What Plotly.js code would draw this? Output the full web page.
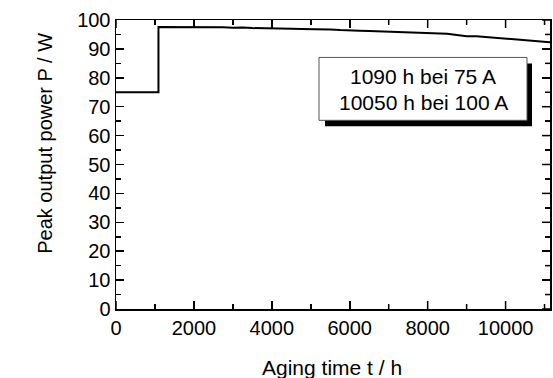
<!DOCTYPE html>
<html>
<head>
<meta charset="utf-8">
<script src="https://cdn.plot.ly/plotly-3.0.1.min.js"></script>
<style>html,body{margin:0;padding:0;background:#fff;}#chart{width:553px;height:378px;}</style>
</head>
<body>
<div id="chart"></div>
<script>
// Aging time (h) and peak output power (W)
const timeH = [0, 1090, 1090, 1250, 1500, 1750, 2000, 2250, 2500, 2750, 3000, 3250, 3500, 3750, 4000,
  4250, 4500, 4750, 5000, 5250, 5500, 5750, 6000, 6250, 6500, 6750, 7000, 7250, 7500, 7750, 8000,
  8250, 8500, 8750, 9000, 9250, 9500, 9750, 10000, 10250, 10500, 10750, 11000, 11140];
const powerW = [75, 75, 97.6, 97.6, 97.5, 97.6, 97.5, 97.5, 97.4, 97.5, 97.3, 97.4, 97.2, 97.2, 97.1,
  97.1, 97.0, 96.9, 96.9, 96.7, 96.7, 96.5, 96.5, 96.3, 96.2, 96.1, 96.0, 95.9, 95.8, 95.6, 95.5,
  95.3, 95.2, 94.8, 94.4, 94.4, 94.1, 93.8, 93.6, 93.3, 93.0, 92.7, 92.4, 92.3];
const xTicks = [0, 2000, 4000, 6000, 8000, 10000];
const xMinor = [1000, 3000, 5000, 7000, 9000, 11000];
const yTicks = [0, 10, 20, 30, 40, 50, 60, 70, 80, 90, 100];
const yMinor = [5, 15, 25, 35, 45, 55, 65, 75, 85, 95];
const boxLines = ["1090 h bei 75 A", "10050 h bei 100 A"];
const xTitle = "Aging time t / h";
const yTitle = "Peak output power P / W";

const L = 116, R = 550, T = 19.5, B = 309;
const W = R - L, H = B - T;
const px = v => (v - L) / W;
const py = v => (B - v) / H;
const FONT = "Liberation Sans, Arial, sans-serif";
const X_RANGE = [0, 11140], Y_RANGE = [0, 100];
const MAJ = 8, MIN = 5, TW = 1.5;
const TC = '#000';

const trace = {
  x: timeH, y: powerW, type: 'scatter', mode: 'lines',
  line: {color: '#000', width: 2}, hoverinfo: 'skip'
};

function axis(extra, minorVals) {
  return Object.assign({
    showgrid: false, zeroline: false, showline: true, linecolor: '#000', linewidth: 1.5,
    ticks: 'inside', ticklen: MAJ, tickwidth: TW, tickcolor: TC, mirror: 'allticks',
    tickfont: {family: FONT, size: 20, color: '#000'},
    minor: {ticks: 'inside', ticklen: MIN, tickwidth: TW, tickcolor: TC, tickmode: 'array', tickvals: minorVals}
  }, extra);
}

// mirrored tick marks on the top and right frame edges (drawn as shapes for robustness)
const tickShapes = [];
const addTop = (v, len) => tickShapes.push({type: 'line', xref: 'x', yref: 'paper', x0: v, x1: v,
  y0: 1, y1: 1 - len / H, line: {color: TC, width: TW}});
const addRight = (v, len) => tickShapes.push({type: 'line', xref: 'paper', yref: 'y', y0: v, y1: v,
  x0: 1, x1: 1 - len / W, line: {color: TC, width: TW}});
const addBottom = (v, len) => tickShapes.push({type: 'line', xref: 'x', yref: 'paper', x0: v, x1: v,
  y0: 0, y1: len / H, line: {color: TC, width: TW}});
xTicks.forEach(v => { addTop(v, MAJ); addBottom(v, MAJ); });
xMinor.forEach(v => { addTop(v, MIN); addBottom(v, MIN); });
yTicks.forEach(v => addRight(v, MAJ));
yMinor.forEach(v => addRight(v, MIN));

const layout = {
  width: 553, height: 378,
  margin: {l: L, r: 553 - R, t: T, b: 378 - B},
  paper_bgcolor: '#fff', plot_bgcolor: '#fff',
  showlegend: false,
  xaxis: axis({range: X_RANGE, tickmode: 'array', tickvals: xTicks, ticktext: xTicks.map(String)}, xMinor),
  yaxis: axis({range: Y_RANGE, tickmode: 'array', tickvals: yTicks, ticktext: yTicks.map(String)}, yMinor),
  shapes: tickShapes.concat([
    {type: 'rect', xref: 'paper', yref: 'paper', x0: px(325), x1: px(532), y0: py(63), y1: py(126),
     fillcolor: '#000', line: {width: 0}, layer: 'above'},
    {type: 'rect', xref: 'paper', yref: 'paper', x0: px(319), x1: px(527), y0: py(57), y1: py(120),
     fillcolor: '#fff', line: {color: '#555', width: 1}, layer: 'above'}
  ]),
  annotations: [
    {xref: 'paper', yref: 'paper', x: px(423), y: py(76), text: boxLines[0], showarrow: false,
     xanchor: 'center', yanchor: 'middle', font: {family: FONT, size: 21, color: '#000'}},
    {xref: 'paper', yref: 'paper', x: px(423), y: py(102), text: boxLines[1], showarrow: false,
     xanchor: 'center', yanchor: 'middle', font: {family: FONT, size: 21, color: '#000'}},
    {xref: 'paper', yref: 'paper', x: px(332), y: py(368), text: xTitle, showarrow: false,
     xanchor: 'center', yanchor: 'middle', font: {family: FONT, size: 21, color: '#000'}},
    {xref: 'paper', yref: 'paper', x: px(45), y: py(143.5), text: yTitle, showarrow: false,
     textangle: -90, xanchor: 'center', yanchor: 'middle', font: {family: FONT, size: 20, color: '#000'}}
  ]
};

Plotly.newPlot('chart', [trace], layout, {staticPlot: true, displayModeBar: false});
</script>
</body>
</html>
